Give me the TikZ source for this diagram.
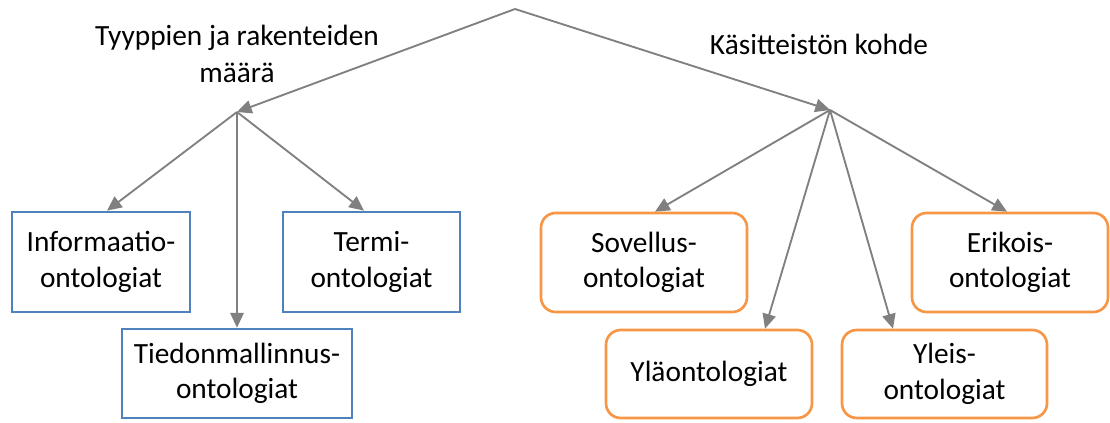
\documentclass[tikz,border=0pt]{standalone}
\usepackage{fontspec}
\setmainfont{Carlito}
\usetikzlibrary{arrows.meta, calc}
\definecolor{bluebox}{HTML}{4F81BD}
\definecolor{orangebox}{HTML}{F79646}
\definecolor{arrowgray}{HTML}{808080}

\begin{document}
\begin{tikzpicture}[x=0.75pt, y=-0.75pt,
    box/.style={rectangle, draw=bluebox, line width=2pt, inner sep=0pt, align=center, font=\fontsize{22}{26.5}\selectfont},
    rbox/.style={rectangle, rounded corners=11pt, draw=orangebox, line width=2pt, inner sep=0pt, align=center, font=\fontsize{22}{26.5}\selectfont},
    lbl/.style={align=center, inner sep=0pt, font=\fontsize{22}{27.5}\selectfont},
    arrow/.style={-{Triangle[length=11pt, width=10pt]}, draw=arrowgray, line width=1.4pt}]
    \useasboundingbox (0,0) rectangle (1110,423);
    % Nodes
    \coordinate (top) at (515,9);
    \coordinate (leftfork) at (237,112);
    \coordinate (rightfork) at (830,110);
    \node[lbl] (maara) at (237,54) {Tyyppien ja rakenteiden\\määrä};
    \node[lbl] (kohde) at (819,44) {Käsitteistön kohde};
    \node[box, minimum width=133.5pt, minimum height=75pt] (info) at (101,262) {Informaatio-\\ontologiat};
    \node[box, minimum width=132.75pt, minimum height=75pt] (termi) at (371.5,262) {Termi-\\ontologiat};
    \node[box, minimum width=172.5pt, minimum height=66.75pt] (tiedon) at (237,373.5) {Tiedonmallinnus-\\ontologiat};
    \node[rbox, minimum width=154.5pt, minimum height=74.25pt] (sovellus) at (644,262.5) {Sovellus-\\ontologiat};
    \node[rbox, minimum width=147pt, minimum height=74.25pt] (erikois) at (1010,262.5) {Erikois-\\ontologiat};
    \node[rbox, minimum width=154.5pt, minimum height=66pt] (yla) at (709,374) {Yläontologiat};
    \node[rbox, minimum width=153.75pt, minimum height=66pt] (yleis) at (944.5,374) {Yleis-\\ontologiat};

    % Arrows
    \draw[arrow] (top) -- (leftfork);
    \draw[arrow] (top) -- (rightfork);
    \draw[arrow] (leftfork) -- ($(info.north)+(6,0)$);
    \draw[arrow] (leftfork) -- ($(termi.north)+(-7.5,0)$);
    \draw[arrow] (leftfork) -- (tiedon.north);
    \draw[arrow] (rightfork) -- ($(sovellus.north)+(11,0)$);
    \draw[arrow] (rightfork) -- ($(erikois.north)+(-3,0)$);
    \draw[arrow] (rightfork) -- ($(yla.north)+(56,0)$);
    \draw[arrow] (rightfork) -- ($(yleis.north)+(-51.5,0)$);

\end{tikzpicture}
\end{document}
